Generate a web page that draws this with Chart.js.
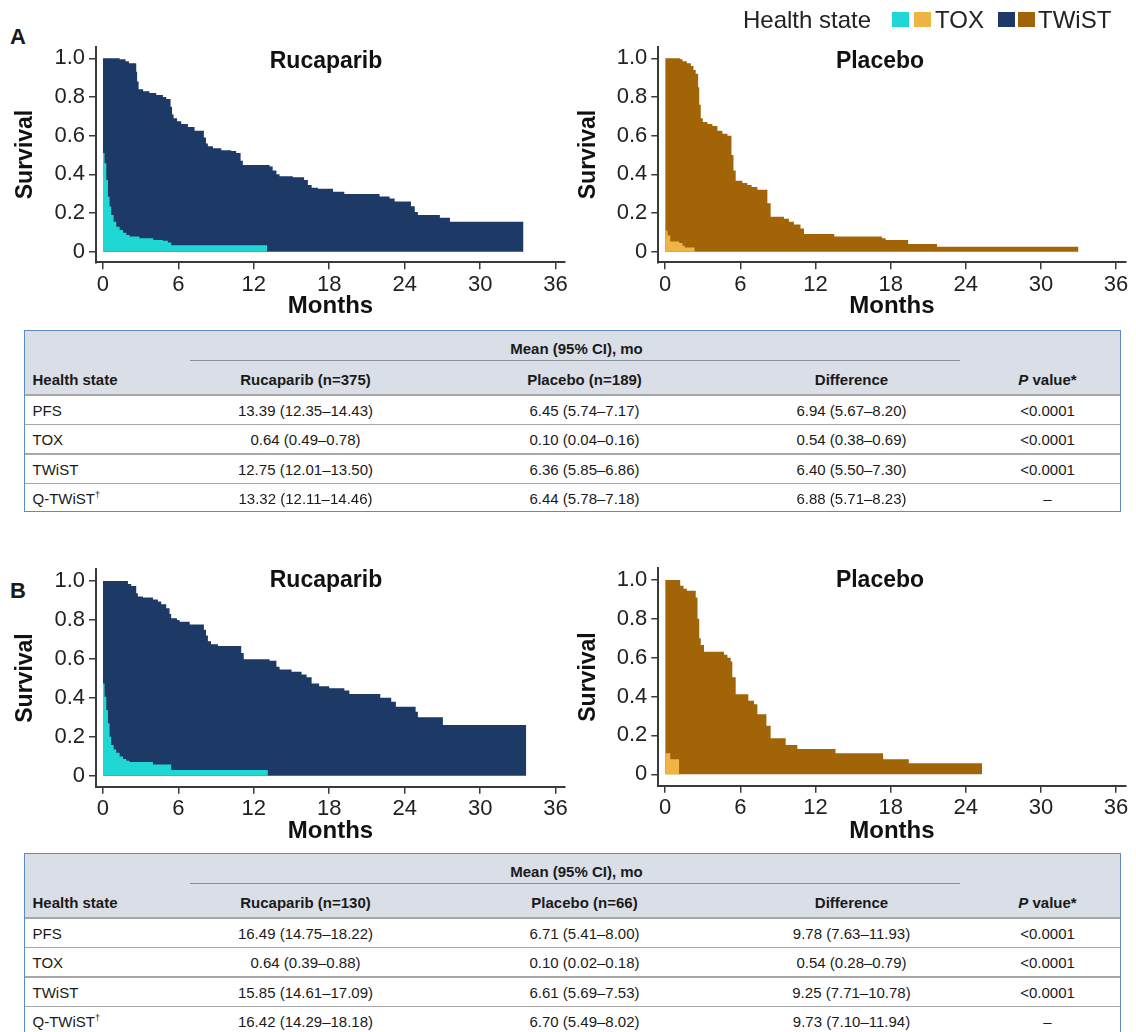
<!DOCTYPE html>
<html>
<head>
<meta charset="utf-8">
<script src="https://cdn.jsdelivr.net/npm/chart.js@4.4.1/dist/chart.umd.min.js"></script>
<style>
  html, body { margin: 0; padding: 0; background: #fff; }
  body { width: 1136px; height: 1032px; position: relative; overflow: hidden;
         font-family: "Liberation Sans", Arial, sans-serif; color: #1a1a1a; }
  canvas { position: absolute; }
  .panel { position: absolute; left: 10px; font-weight: bold; font-size: 22px; line-height: 22px; }
  .ptitle { position: absolute; font-weight: bold; font-size: 23px; line-height: 23px;
            transform: translateX(-50%); white-space: nowrap; color: #111; }
  .legend-txt { position: absolute; top: 8px; font-size: 24px; line-height: 24px; color: #222; white-space: nowrap; }
  .sw { position: absolute; top: 12px; width: 17px; height: 15px; }
  .tbl { position: absolute; left: 24px; width: 1097px; height: 182px; border: 1.5px solid #5b8cc8;
         box-sizing: border-box; }
  .hdr { position: absolute; left: 0; right: 0; top: 0; height: 64px; background: #d9dee7; }
  .sep { position: absolute; left: 0; right: 0; height: 1.5px; background: #a8a8a8; }
  .uline { position: absolute; height: 1.5px; background: #8a9099; }
  .c, .l { position: absolute; white-space: nowrap; font-size: 15px; line-height: 15px; }
  .c { transform: translate(-50%, -50%); }
  .l { transform: translateY(-50%); }
  .b { font-weight: bold; }
  sup { font-size: 9px; line-height: 0; }
</style>
</head>
<body>
<div class="panel" style="top:26px">A</div>
<div class="panel" style="top:580px">B</div>

<canvas id="rucA" width="585" height="290" style="left:0px;top:30px"></canvas>
<canvas id="placA" width="574" height="290" style="left:562px;top:30px"></canvas>
<canvas id="rucB" width="585" height="290" style="left:0px;top:555px"></canvas>
<canvas id="placB" width="574" height="290" style="left:562px;top:555px"></canvas>

<div class="ptitle" style="left:326px;top:49px">Rucaparib</div>
<div class="ptitle" style="left:880px;top:49px">Placebo</div>
<div class="ptitle" style="left:326px;top:568px">Rucaparib</div>
<div class="ptitle" style="left:880px;top:568px">Placebo</div>

<div id="legend"></div>

<script>
const monthTicks = [0, 6, 12, 18, 24, 30, 36];
const survivalTicks = [0, 0.2, 0.4, 0.6, 0.8, 1.0];
const healthStates = ["TOX", "TWiST"];
const rucColors = ["#1fd8d5", "#1d3a66"];
const placColors = ["#f0b444", "#a16508"];

// A: rucaparib
const rucAToxT = [0, 0.13, 0.27, 0.4, 0.53, 0.66, 0.85, 1.06, 1.33, 1.6, 1.86, 2.12, 2.9, 4.0, 4.77, 5.17, 5.43, 13.07];
const rucAToxS = [0.51, 0.457, 0.371, 0.284, 0.233, 0.19, 0.155, 0.129, 0.112, 0.098, 0.086, 0.078, 0.069, 0.06, 0.057, 0.047, 0.033, 0.033];
const rucAPfsT = [0, 1.33, 1.8, 2.07, 2.65, 2.72, 2.84, 3.2, 3.7, 4.24, 4.77, 5.04, 5.38, 5.5, 5.62, 5.9, 6.23, 6.76, 7.29, 8.03, 8.2, 8.35, 8.75, 9.41, 10.2, 10.6, 10.95, 11.13, 13.26, 13.5, 13.8, 14.05, 15.1, 16.0, 16.3, 16.6, 17.1, 18.3, 19.2, 22.0, 22.8, 23.2, 24.5, 24.8, 25.05, 26.8, 27.6, 33.45];
const rucAPfsS = [1.0, 0.995, 0.985, 0.975, 0.93, 0.88, 0.84, 0.83, 0.82, 0.81, 0.8, 0.79, 0.75, 0.71, 0.69, 0.675, 0.66, 0.645, 0.625, 0.59, 0.56, 0.545, 0.535, 0.525, 0.52, 0.51, 0.47, 0.448, 0.44, 0.42, 0.4, 0.39, 0.385, 0.37, 0.345, 0.33, 0.325, 0.31, 0.298, 0.285, 0.275, 0.26, 0.235, 0.205, 0.19, 0.175, 0.155, 0.155];

// A: placebo
const placAToxT = [0, 0.19, 0.4, 1.12, 1.38, 1.57, 2.36];
const placAToxS = [0.108, 0.083, 0.053, 0.045, 0.03, 0.022, 0.022];
const placAPfsT = [0, 1.2, 1.38, 1.73, 2.05, 2.26, 2.44, 2.63, 2.72, 2.84, 3.0, 3.37, 3.77, 4.17, 4.57, 4.97, 5.29, 5.45, 5.63, 6.16, 6.56, 6.9, 7.36, 8.16, 8.42, 9.48, 9.88, 10.28, 10.8, 11.08, 13.5, 17.3, 17.6, 19.4, 21.7, 33.0];
const placAPfsS = [1.0, 0.995, 0.985, 0.975, 0.96, 0.94, 0.92, 0.85, 0.76, 0.69, 0.67, 0.66, 0.65, 0.625, 0.61, 0.6, 0.5, 0.42, 0.367, 0.355, 0.345, 0.335, 0.32, 0.25, 0.181, 0.17, 0.155, 0.14, 0.12, 0.091, 0.079, 0.07, 0.06, 0.04, 0.026, 0.026];

// B: rucaparib
const rucBToxT = [0, 0.13, 0.27, 0.4, 0.53, 0.66, 0.85, 1.06, 1.33, 1.6, 1.86, 2.12, 3.98, 5.43, 13.12];
const rucBToxS = [0.474, 0.406, 0.337, 0.269, 0.2, 0.158, 0.135, 0.118, 0.098, 0.086, 0.077, 0.07, 0.058, 0.029, 0.029];
const rucBPfsT = [0, 1.99, 2.25, 2.65, 2.78, 3.18, 3.98, 4.37, 4.64, 5.04, 5.3, 5.43, 5.89, 6.1, 6.9, 8.03, 8.2, 8.35, 8.6, 9.15, 11.0, 11.2, 13.26, 13.8, 14.05, 15.0, 15.8, 16.2, 16.6, 17.2, 18.0, 19.2, 19.6, 22.06, 22.93, 23.3, 24.87, 25.05, 27.04, 33.67];
const rucBPfsS = [1.0, 0.985, 0.974, 0.937, 0.92, 0.915, 0.905, 0.895, 0.88, 0.86, 0.83, 0.808, 0.8, 0.79, 0.777, 0.75, 0.72, 0.69, 0.675, 0.666, 0.63, 0.598, 0.59, 0.56, 0.546, 0.534, 0.52, 0.505, 0.474, 0.46, 0.449, 0.437, 0.42, 0.4, 0.38, 0.354, 0.329, 0.3, 0.26, 0.26];

// B: placebo
const placBToxT = [0, 0.4, 1.12];
const placBToxS = [0.108, 0.077, 0.077];
const placBPfsT = [0, 1.2, 1.46, 1.73, 2.44, 2.58, 2.72, 2.84, 3.1, 4.7, 4.97, 5.23, 5.36, 5.63, 6.64, 7.09, 7.36, 8.08, 8.42, 9.62, 10.55, 13.6, 17.4, 19.45, 25.3];
const placBPfsS = [1.0, 0.97, 0.955, 0.945, 0.91, 0.8, 0.7, 0.665, 0.631, 0.615, 0.6, 0.58, 0.5, 0.412, 0.379, 0.36, 0.309, 0.25, 0.185, 0.151, 0.13, 0.108, 0.077, 0.057, 0.057];

// tables
const colHeads = ["Health state", "Difference", "<i>P</i> value*"];
const rowLabels = ["PFS", "TOX", "TWiST", "Q-TWiST<sup>†</sup>"];
const pValues = ["&lt;0.0001", "&lt;0.0001", "&lt;0.0001", "–"];

const rucAHead = "Rucaparib (n=375)";
const placAHead = "Placebo (n=189)";
const rucAMean = ["13.39 (12.35–14.43)", "0.64 (0.49–0.78)", "12.75 (12.01–13.50)", "13.32 (12.11–14.46)"];
const placAMean = ["6.45 (5.74–7.17)", "0.10 (0.04–0.16)", "6.36 (5.85–6.86)", "6.44 (5.78–7.18)"];
const diffAMean = ["6.94 (5.67–8.20)", "0.54 (0.38–0.69)", "6.40 (5.50–7.30)", "6.88 (5.71–8.23)"];

const rucBHead = "Rucaparib (n=130)";
const placBHead = "Placebo (n=66)";
const rucBMean = ["16.49 (14.75–18.22)", "0.64 (0.39–0.88)", "15.85 (14.61–17.09)", "16.42 (14.29–18.18)"];
const placBMean = ["6.71 (5.41–8.00)", "0.10 (0.02–0.18)", "6.61 (5.69–7.53)", "6.70 (5.49–8.02)"];
const diffBMean = ["9.78 (7.63–11.93)", "0.54 (0.28–0.79)", "9.25 (7.71–10.78)", "9.73 (7.10–11.94)"];

Chart.defaults.font.family = '"Liberation Sans", Arial, sans-serif';

function drawPanel(id, toxT, toxS, pfsT, pfsS, colors, geo) {
  const pts = (t, s) => t.map((x, i) => ({ x: x, y: s[i] }));
  const area = (label, data, color) => ({
    label: label, data: data, stepped: true, fill: "origin",
    backgroundColor: color, borderColor: "rgba(0,0,0,0)", borderWidth: 0,
    pointRadius: 0, pointHitRadius: 0,
  });
  new Chart(document.getElementById(id), {
    type: "line",
    data: {
      datasets: [
        area(healthStates[0], pts(toxT, toxS), colors[0]),
        area(healthStates[1], pts(pfsT, pfsS), colors[1]),
      ],
    },
    options: {
      responsive: false,
      animation: false,
      layout: { padding: { left: 0, top: geo.padTop, right: geo.padRight, bottom: 0 } },
      plugins: { legend: { display: false }, tooltip: { enabled: false } },
      scales: {
        x: {
          type: "linear", min: -0.55, max: 36.75,
          afterBuildTicks: (s) => { s.ticks = monthTicks.map((v) => ({ value: v })); },
          afterFit: (s) => { s.height = geo.xAxisH; s.paddingLeft = 0; s.paddingRight = 0; },
          ticks: { font: { size: 22 }, color: "#222", padding: 2, maxRotation: 0, autoSkip: false },
          grid: { drawOnChartArea: false, drawTicks: true, tickLength: 7, color: "#3a3a3a", lineWidth: 1.5 },
          border: { display: true, color: "#3a3a3a", width: 2 },
          title: { display: true, text: "Months", color: "#111", padding: 0,
                   font: { size: 24, weight: "bold", lineHeight: 1.1 } },
        },
        y: {
          type: "linear", min: geo.yMin, max: 1.06,
          afterBuildTicks: (s) => { s.ticks = survivalTicks.map((v) => ({ value: v })); },
          afterFit: (s) => { s.width = geo.yAxisW; s.paddingTop = 0; s.paddingBottom = 0; },
          ticks: { font: { size: 22 }, color: "#222", padding: 4,
                   callback: (v) => (v === 0 ? "0" : v.toFixed(1)) },
          grid: { drawOnChartArea: false, drawTicks: true, tickLength: 7, color: "#3a3a3a", lineWidth: 1.5 },
          border: { display: true, color: "#3a3a3a", width: 2 },
          title: { display: true, text: "Survival", color: "#111", padding: { top: geo.titlePad, bottom: 0 },
                   font: { size: 23, weight: "bold", lineHeight: 1.2 } },
        },
      },
    },
  });
}

drawPanel("rucA", rucAToxT, rucAToxS, rucAPfsT, rucAPfsS, rucColors,
  { padTop: 16.7, padRight: 20, yAxisW: 96, xAxisH: 57.7, yMin: -0.055, titlePad: 12 });
drawPanel("placA", placAToxT, placAToxS, placAPfsT, placAPfsS, placColors,
  { padTop: 16.7, padRight: 10.5, yAxisW: 96.3, xAxisH: 57.7, yMin: -0.055, titlePad: 13 });
drawPanel("rucB", rucBToxT, rucBToxS, rucBPfsT, rucBPfsS, rucColors,
  { padTop: 14.3, padRight: 20, yAxisW: 96, xAxisH: 58.3, yMin: -0.0565, titlePad: 12 });
drawPanel("placB", placBToxT, placBToxS, placBPfsT, placBPfsS, placColors,
  { padTop: 13.3, padRight: 10.5, yAxisW: 96.3, xAxisH: 59.3, yMin: -0.0587, titlePad: 13 });

// legend
(function () {
  const lg = document.getElementById("legend");
  const put = (html, cls, left, style) => {
    const d = document.createElement("div");
    d.className = cls; d.innerHTML = html; d.style.left = left + "px";
    if (style) d.style.background = style;
    lg.appendChild(d);
  };
  put("Health state", "legend-txt", 743);
  put("", "sw", 892, rucColors[0]);
  put("", "sw", 914, placColors[0]);
  put(healthStates[0], "legend-txt", 935);
  put("", "sw", 998, rucColors[1]);
  put("", "sw", 1018, placColors[1]);
  put(healthStates[1], "legend-txt", 1038);
})();

// tables
const colX = [33, 306, 585, 852, 1048];

function buildTable(top, rucHead, placHead, rucVals, placVals, diffVals) {
  const box = document.createElement("div");
  box.className = "tbl";
  box.style.top = top + "px";
  document.body.appendChild(box);
  const x0 = 25.5;
  const add = (html, cls, x, y) => {
    const d = document.createElement("div");
    d.className = cls; d.innerHTML = html;
    d.style.left = (x - x0) + "px"; d.style.top = y + "px";
    box.appendChild(d);
    return d;
  };
  add("", "hdr", x0, 0);
  const ul = add("", "uline", 190, 28.5);
  ul.style.width = "770px";
  add("Mean (95% CI), mo", "c b", 577, 17);
  add(colHeads[0], "l b", colX[0], 48);
  add(rucHead, "c b", colX[1], 48);
  add(placHead, "c b", colX[2], 48);
  add(colHeads[1], "c b", colX[3], 48);
  add(colHeads[2], "c b", colX[4], 48);
  const rowH = 29.5;
  for (let i = 0; i < rowLabels.length; i++) {
    add("", "sep", x0, 64 + i * rowH - 0.75);
    const yc = 64 + i * rowH + rowH / 2;
    add(rowLabels[i], "l", colX[0], yc);
    add(rucVals[i], "c", colX[1], yc);
    add(placVals[i], "c", colX[2], yc);
    add(diffVals[i], "c", colX[3], yc);
    add(pValues[i], "c", colX[4], yc);
  }
}

buildTable(330, rucAHead, placAHead, rucAMean, placAMean, diffAMean);
buildTable(853, rucBHead, placBHead, rucBMean, placBMean, diffBMean);
</script>
</body>
</html>
